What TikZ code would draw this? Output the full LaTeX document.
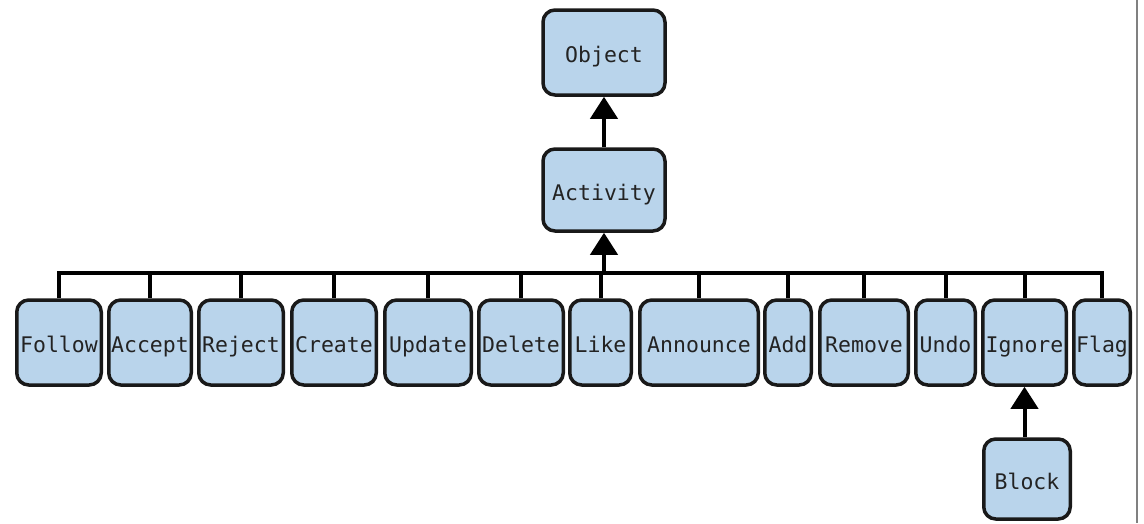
\documentclass[tikz,border=0pt]{standalone}
\usepackage{fontspec}
\setmonofont{DejaVu Sans Mono}
\usetikzlibrary{arrows.meta}
\definecolor{boxfill}{RGB}{185,212,235}
\definecolor{boxline}{RGB}{25,25,25}
\definecolor{txt}{RGB}{35,35,35}
\tikzset{
  box/.style={draw=boxline, fill=boxfill, line width=3.5pt, rounded corners=12pt,
    inner sep=0pt, minimum height=85pt, text=txt, text height=22pt, text depth=2pt,
    font=\ttfamily\fontsize{21.5}{24}\selectfont},
  conn/.style={draw=black, line width=4pt},
  arr/.style={conn, -{Triangle[width=27pt,length=22pt]}},
}
\begin{document}
\begin{tikzpicture}[x=1pt,y=1pt]
\useasboundingbox (0,0) rectangle (1144,-523);
\fill[white] (0,0) rectangle (1144,-523);
\draw[gray, line width=1.5pt] (1137,0) -- (1137,-523);
% top nodes
\node[box, minimum width=122pt] (object) at (604,-52.5) {Object};
\node[box, minimum width=122pt, minimum height=82pt] (activity) at (604,-190) {Activity};
% row
\node[box, minimum width=84.5pt] (follow) at (59,-342.5) {Follow};
\node[box, minimum width=82.5pt] (accept) at (150,-342.5) {Accept};
\node[box, minimum width=84.5pt] (reject) at (241,-342.5) {Reject};
\node[box, minimum width=84.5pt] (create) at (334,-342.5) {Create};
\node[box, minimum width=86.5pt] (update) at (428,-342.5) {Update};
\node[box, minimum width=84.5pt] (delete) at (521,-342.5) {Delete};
\node[box, minimum width=61.5pt] (like) at (600.5,-342.5) {Like};
\node[box, minimum width=118.5pt] (announce) at (699,-342.5) {Announce};
\node[box, minimum width=46.5pt] (add) at (788,-342.5) {Add};
\node[box, minimum width=88.5pt] (remove) at (864,-342.5) {Remove};
\node[box, minimum width=59.5pt] (undo) at (945.5,-342.5) {Undo};
\node[box, minimum width=83.5pt] (ignore) at (1024.5,-342.5) {Ignore};
\node[box, minimum width=56.5pt] (flag) at (1102,-342.5) {Flag};
\node[box, minimum width=86.5pt, minimum height=80pt] (block) at (1027,-479) {Block};
% bus
\coordinate (busL) at (59,-273);
\coordinate (busR) at (1102,-273);
\draw[conn, line cap=rect] (busL) -- (busR);
\foreach \n in {follow,accept,reject,create,update,delete,like,announce,add,remove,undo,ignore,flag}{
  \draw[conn] (\n.north) -- (\n.north |- busL);
}
\draw[arr] (activity.south |- busL) -- (activity.south);
\draw[arr] (activity.north) -- (object.south);
\draw[arr] (block.north -| ignore.south) -- (ignore.south);
\end{tikzpicture}
\end{document}
